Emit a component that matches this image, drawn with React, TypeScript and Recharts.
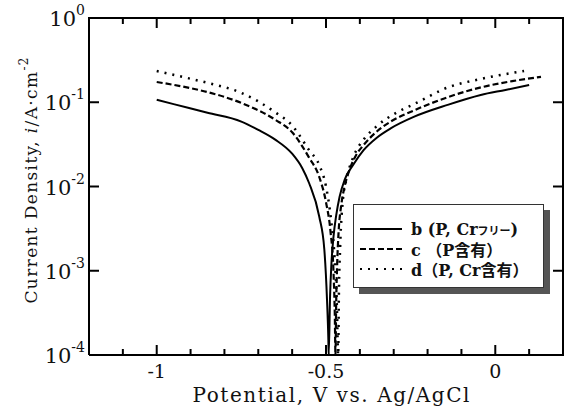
import { LineChart, Line, XAxis, YAxis, Legend } from "recharts"

// potential (V vs Ag/AgCl) and current density (A/cm2)
const bPotential = [-1.0, -0.95, -0.85, -0.75, -0.7, -0.65, -0.6, -0.57, -0.55, -0.52, -0.505, -0.497, -0.493, -0.492, -0.488, -0.484, -0.478, -0.47, -0.46, -0.445, -0.42, -0.389, -0.35, -0.309, -0.241, -0.141, -0.043, 0.03, 0.1]
const bCurrent = [0.107, 0.095, 0.075, 0.059, 0.047, 0.036, 0.0245, 0.0165, 0.011, 0.0044, 0.0018, 0.00045, 0.00015, 0.0001, 0.0005, 0.0012, 0.0025, 0.0045, 0.0075, 0.012, 0.018, 0.027, 0.038, 0.049, 0.067, 0.093, 0.122, 0.14, 0.16]

const cPotential = [-1.0, -0.9, -0.85, -0.75, -0.65, -0.6, -0.55, -0.52, -0.5, -0.487, -0.478, -0.474, -0.472, -0.47, -0.467, -0.463, -0.455, -0.445, -0.43, -0.41, -0.389, -0.35, -0.309, -0.24, -0.14, -0.04, 0.05, 0.135]
const cCurrent = [0.174, 0.147, 0.132, 0.098, 0.062, 0.044, 0.022, 0.013, 0.0065, 0.003, 0.001, 0.0003, 0.0001, 0.0004, 0.0012, 0.0028, 0.006, 0.01, 0.016, 0.024, 0.031, 0.045, 0.059, 0.08, 0.115, 0.151, 0.178, 0.2]

const dPotential = [-1.0, -0.9, -0.85, -0.75, -0.65, -0.6, -0.55, -0.52, -0.5, -0.485, -0.475, -0.468, -0.464, -0.462, -0.458, -0.45, -0.44, -0.42, -0.389, -0.35, -0.29, -0.24, -0.14, -0.04, 0.085]
const dCurrent = [0.235, 0.19, 0.17, 0.129, 0.076, 0.053, 0.027, 0.018, 0.01, 0.004, 0.0015, 0.0004, 0.0001, 0.0005, 0.002, 0.007, 0.012, 0.022, 0.036, 0.052, 0.076, 0.095, 0.15, 0.19, 0.235]

const xTicks = [-1.1, -1, -0.9, -0.8, -0.7, -0.6, -0.5, -0.4, -0.3, -0.2, -0.1, 0, 0.1]
const xMajor = [-1, -0.5, 0]
const xMajorLabels = ["-1", "-0.5", "0"]
const yTicks = [0.0001, 0.001, 0.01, 0.1, 1]
const yExponents = ["-4", "-3", "-2", "-1", "0"]
const xDomain = [-1.2, 0.2]
const yDomain = [0.0001, 1]

const seriesNames = ["b", "c", "d"]

const toData = (xs: number[], ys: number[]) => xs.map((x, i) => ({ x, y: ys[i] }))
const bData = toData(bPotential, bCurrent)
const cData = toData(cPotential, cCurrent)
const dData = toData(dPotential, dCurrent)

const W = 565
const H = 410
const M = { top: 18, right: 2, bottom: 0, left: 0 }
const X_AXIS_H = 55
const Y_AXIS_W = 89
const PLOT_LEFT = M.left + Y_AXIS_W
const PLOT_TOP = M.top
const PLOT_H = H - M.top - M.bottom - X_AXIS_H
const PLOT_W = W - M.left - M.right - Y_AXIS_W
const PLOT_RIGHT = PLOT_LEFT + PLOT_W

const FONT = "'DejaVu Serif', 'Noto Sans CJK JP', serif"
const INK = "#111"

const BottomTick = (p: any) => {
const { x, y, payload } = p
const i = xMajor.indexOf(payload.value)
const len = i >= 0 ? 10 : 6
return (
<g>
<line x1={x} x2={x} y1={y} y2={y - len} stroke="#000" strokeWidth={2} />
{i >= 0 && (
<text x={x} y={y + 23} textAnchor="middle" fontSize={19} fontFamily={FONT} fill={INK}>
{xMajorLabels[i]}
</text>
)}
</g>
)
}

const LeftTick = (p: any) => {
const { x, y, payload } = p
const i = yTicks.indexOf(payload.value)
return (
<g>
<line x1={x} x2={x + 10} y1={y} y2={y} stroke="#000" strokeWidth={2} />
<text x={x - 4} y={y + 8} textAnchor="end" fontSize={21} fontFamily={FONT} fill={INK}>
10
<tspan dy={-11} fontSize={14}>{yExponents[i]}</tspan>
</text>
</g>
)
}

// top and right edges of the frame with mirrored inward ticks
const FrameOverlay = () => {
const fx = (v: number) => PLOT_LEFT + ((v - xDomain[0]) / (xDomain[1] - xDomain[0])) * PLOT_W
const ly = Math.log10
const fy = (v: number) => PLOT_TOP + ((ly(yDomain[1]) - ly(v)) / (ly(yDomain[1]) - ly(yDomain[0]))) * PLOT_H
return (
<svg width={W} height={H} style={{ position: "absolute", left: 0, top: 0, pointerEvents: "none", zIndex: 5 }}>
<path d={`M${PLOT_LEFT - 1},${PLOT_TOP}H${PLOT_RIGHT}V${PLOT_TOP + PLOT_H + 1}`} fill="none" stroke="#000" strokeWidth={2} />
{xTicks.map((t) => (
<line key={"t" + t} x1={fx(t)} x2={fx(t)} y1={PLOT_TOP} y2={PLOT_TOP + (xMajor.includes(t) ? 10 : 6)} stroke="#000" strokeWidth={2} />
))}
{yTicks.map((v) => (
<line key={"r" + v} x1={PLOT_RIGHT} x2={PLOT_RIGHT - 10} y1={fy(v)} y2={fy(v)} stroke="#000" strokeWidth={2} />
))}
</svg>
)
}

const YLabel = (p: any) => {
const vb = p.viewBox
const cx = 31
const cy = vb.y + vb.height / 2 - 6
return (
<text
x={cx}
y={cy}
transform={`rotate(-90 ${cx} ${cy})`}
textAnchor="middle"
dominantBaseline="central"
fontSize={17}
textLength={246}
lengthAdjust="spacing"
fontFamily={FONT}
fill={INK}
>
Current Density, <tspan fontStyle="italic">i</tspan>/A·cm
<tspan dy={-7} fontSize={12}>-2</tspan>
</text>
)
}

const XLabel = (p: any) => {
const vb = p.viewBox
return (
<text
x={vb.x + vb.width / 2 + 5}
y={vb.y + 47}
textAnchor="middle"
fontSize={20}
textLength={277}
lengthAdjust="spacing"
fontFamily={FONT}
fill={INK}
>
Potential, V vs. Ag/AgCl
</text>
)
}

const dashes = ["", "6 3", "2 6"]

const LegendBox = () => (
<div
style={{
width: 191,
height: 84,
boxSizing: "border-box",
border: "1.5px solid #333",
background: "#fff",
boxShadow: "6px 6px 0 #555",
paddingTop: 14,
paddingLeft: 5,
fontFamily: FONT,
color: INK,
fontWeight: "bold",
fontSize: 16,
whiteSpace: "nowrap",
}}
>
{seriesNames.map((n, i) => (
<div key={n} style={{ display: "flex", alignItems: "center", height: 20 }}>
<svg width={44} height={10} style={{ marginRight: 8 }}>
<line x1={1} x2={43} y1={5} y2={5} stroke="#000" strokeWidth={2.2} strokeDasharray={dashes[i]} />
</svg>
{i === 0 && <span>b (P, Cr<span style={{ fontSize: 11 }}>フリー</span>)</span>}
{i === 1 && <span>c （P含有）</span>}
{i === 2 && <span>d（P, Cr含有）</span>}
</div>
))}
</div>
)

export default function App() {
return (
<div style={{ position: "absolute", left: 0, top: 0, width: W, height: H, background: "#fff" }}>
<LineChart width={W} height={H} margin={M}>
<XAxis
type="number"
dataKey="x"
domain={xDomain}
ticks={xTicks}
interval={0}
allowDataOverflow
height={X_AXIS_H}
tickSize={0}
tickMargin={0}
tickLine={false}
axisLine={{ stroke: "#000", strokeWidth: 2 }}
tick={(p: any) => <BottomTick {...p} />}
label={{ content: (p: any) => <XLabel {...p} /> }}
/>
<YAxis
scale="log"
domain={yDomain}
ticks={yTicks}
interval={0}
allowDataOverflow
width={Y_AXIS_W}
tickSize={0}
tickMargin={0}
tickLine={false}
axisLine={{ stroke: "#000", strokeWidth: 2 }}
tick={(p: any) => <LeftTick {...p} />}
label={{ content: (p: any) => <YLabel {...p} /> }}
/>
<Line data={bData} dataKey="y" name="b" type="monotone" stroke="#000" strokeWidth={2} dot={false} isAnimationActive={false} />
<Line data={cData} dataKey="y" name="c" type="monotone" stroke="#000" strokeWidth={2.2} strokeDasharray="6 3" dot={false} isAnimationActive={false} />
<Line data={dData} dataKey="y" name="d" type="monotone" stroke="#000" strokeWidth={2.5} strokeDasharray="2 6" dot={false} isAnimationActive={false} />
<Legend
layout="horizontal"
verticalAlign="middle"
align="center"
content={() => <LegendBox />}
wrapperStyle={{ position: "absolute", left: 353, top: 204, width: 191, height: 84, right: "auto", bottom: "auto" }}
/>
</LineChart>
<FrameOverlay />
</div>
)
}
